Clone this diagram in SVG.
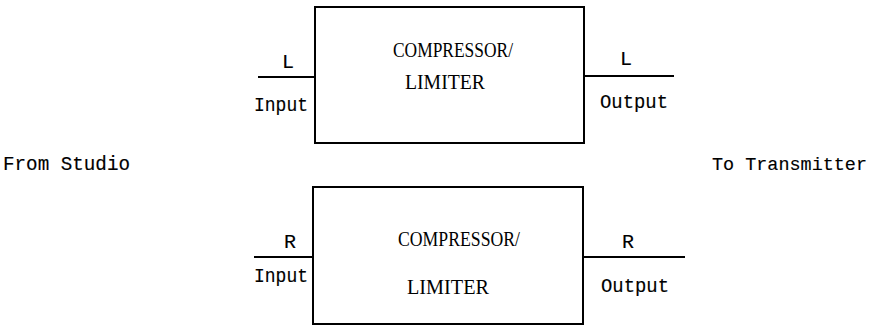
<svg xmlns="http://www.w3.org/2000/svg" width="877" height="326" viewBox="0 0 877 326">
<style>
.box{fill:#fff;stroke:#000;stroke-width:2}
.wire{stroke:#000;stroke-width:2;fill:none}
.mono{font-family:"Liberation Mono","Courier New",monospace;font-size:20px;fill:#000;stroke:#000;stroke-width:0.15}
.serif{font-family:"Liberation Serif","Times New Roman",serif;font-size:20px;fill:#000}
</style>
<rect width="877" height="326" fill="#fff"/>
<g id="connectors">
<line class="wire" x1="258" y1="77" x2="315" y2="77"/>
<line class="wire" x1="584" y1="76" x2="674" y2="76"/>
<line class="wire" x1="254" y1="257" x2="313" y2="257"/>
<line class="wire" x1="583" y1="257" x2="685" y2="257"/>
</g>
<g id="compressor-left">
<rect class="box" x="315" y="7" width="269" height="136"/>
<text class="serif" x="393" y="57" textLength="120" lengthAdjust="spacingAndGlyphs">COMPRESSOR/</text>
<text class="serif" x="405" y="89" textLength="80" lengthAdjust="spacingAndGlyphs">LIMITER</text>
</g>
<g id="compressor-right">
<rect class="box" x="313" y="187" width="270" height="137"/>
<text class="serif" x="398" y="246" textLength="122" lengthAdjust="spacingAndGlyphs">COMPRESSOR/</text>
<text class="serif" x="407" y="294" textLength="82" lengthAdjust="spacingAndGlyphs">LIMITER</text>
</g>
<g id="labels-left-in">
<text class="mono" x="288" y="68" text-anchor="middle">L</text>
<text class="mono" x="254" y="111" textLength="54" lengthAdjust="spacingAndGlyphs">Input</text>
</g>
<g id="labels-left-out">
<text class="mono" x="626" y="65" text-anchor="middle">L</text>
<text class="mono" x="600" y="108" textLength="68" lengthAdjust="spacingAndGlyphs">Output</text>
</g>
<g id="labels-right-in">
<text class="mono" x="290" y="248" text-anchor="middle">R</text>
<text class="mono" x="254" y="282" textLength="54" lengthAdjust="spacingAndGlyphs">Input</text>
</g>
<g id="labels-right-out">
<text class="mono" x="601" y="292" textLength="68" lengthAdjust="spacingAndGlyphs">Output</text>
<text class="mono" x="628" y="248" text-anchor="middle">R</text>
</g>
<g id="from-studio">
<text class="mono" x="3" y="170" textLength="127" lengthAdjust="spacingAndGlyphs">From Studio</text>
</g>
<g id="to-transmitter">
<text class="mono" x="712" y="170" style="font-size:19px" textLength="155" lengthAdjust="spacingAndGlyphs">To Transmitter</text>
</g>
</svg>
